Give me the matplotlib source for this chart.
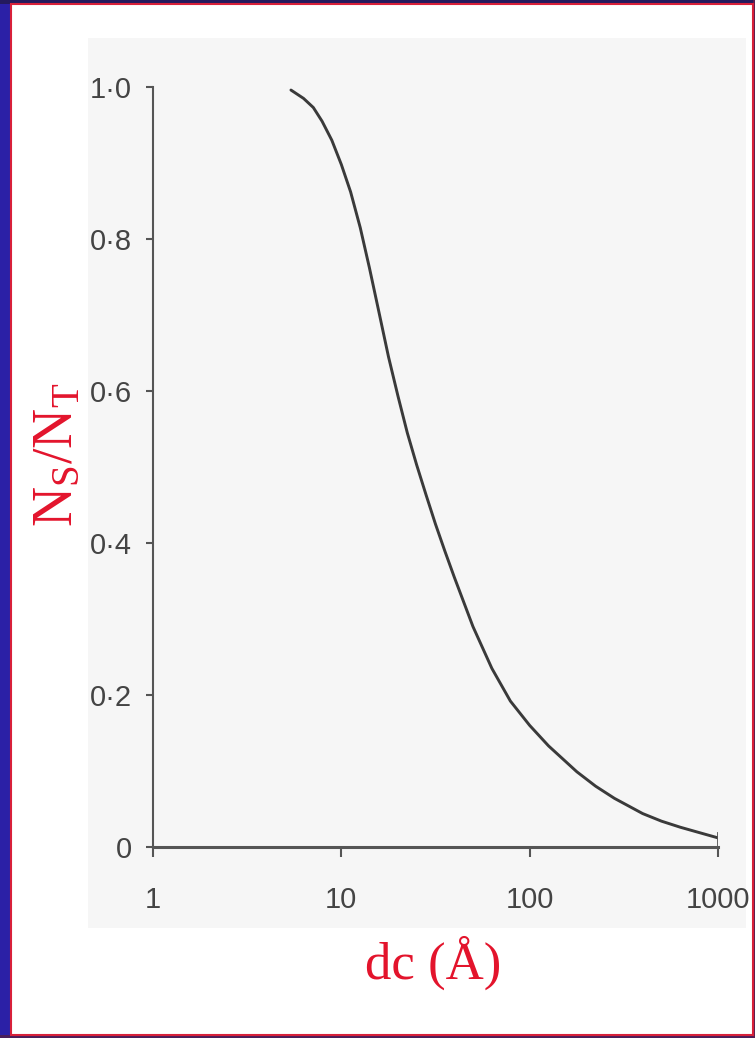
import matplotlib
matplotlib.use("Agg")
import matplotlib.pyplot as plt
from matplotlib.patches import Rectangle

# curve: core diameter dc (Angstrom) vs Ns/Nt
dc = [5.4, 6.3, 7.1, 7.9, 8.9, 10.0, 11.2, 12.6, 14.1, 15.8, 17.8, 20.0,
      22.4, 25.1, 28.2, 31.6, 35.5, 39.8, 50, 63, 79, 100, 126, 178, 224,
      282, 398, 501, 631, 794, 1000]
frac = [0.996, 0.985, 0.973, 0.955, 0.930, 0.898, 0.862, 0.815, 0.762, 0.705,
        0.645, 0.593, 0.545, 0.503, 0.463, 0.425, 0.389, 0.355, 0.290, 0.235,
        0.192, 0.160, 0.133, 0.099, 0.080, 0.064, 0.044, 0.034, 0.026, 0.019,
        0.012]

x_ticks = [1, 10, 100, 1000]
x_labels = ["1", "10", "100", "1000"]
y_ticks = [0, 0.2, 0.4, 0.6, 0.8, 1.0]
y_labels = ["0", "0\u00b72", "0\u00b74", "0\u00b76", "0\u00b78", "1\u00b70"]

RED = "#e3142c"
INK = "#3a3a3a"
W, H = 755, 1038

plt.rcParams["mathtext.fontset"] = "custom"
plt.rcParams["mathtext.rm"] = "Liberation Serif"
plt.rcParams["mathtext.it"] = "Liberation Serif:italic"

fig = plt.figure(figsize=(W / 100, H / 100), dpi=100)
fig.patch.set_facecolor("white")

def box(x0, y0, x1, y1, **kw):
    # rectangle in pixel coords (top-left origin) on the figure
    fig.patches.append(Rectangle((x0 / W, 1 - y1 / H), (x1 - x0) / W, (y1 - y0) / H,
                                 transform=fig.transFigure, zorder=-5, **kw))

# slide frame: blue band left, dark top/bottom, thin red border
box(0, 0, 11, H, color="#2b20a6", lw=0)
box(0, 0, W, 4, color="#241a5e", lw=0)
box(0, 1035, W, H, color="#4a1e5a", lw=0)
box(753, 0, W, H, color="#5a1e50", lw=0)
box(11, 4, 753, 1035, fill=False, ec="#d8203a", lw=1.5)
# pale grey scanned area
box(88, 38, 746, 928, color="#f6f6f6", lw=0)

ax = fig.add_axes([153 / W, 1 - 847 / H, (718 - 153) / W, 760 / H])
ax.set_facecolor("none")
ax.set_xscale("log")
ax.set_xlim(1, 1000)
ax.set_ylim(0, 1)

ax.plot(dc, frac, color=INK, lw=2.1, solid_capstyle="round",
        solid_joinstyle="round")
ax.axvline(1000, ymax=0.018, color="#555555", lw=2)

for s in ["top", "right"]:
    ax.spines[s].set_visible(False)
ax.spines["left"].set_color("#555555")
ax.spines["left"].set_linewidth(1.5)
ax.spines["bottom"].set_color("#555555")
ax.spines["bottom"].set_linewidth(2.2)

ax.set_xticks(x_ticks)
ax.set_xticklabels(x_labels)
ax.xaxis.set_minor_locator(plt.NullLocator())
ax.set_yticks(y_ticks)
ax.set_yticklabels(y_labels)

ax.tick_params(axis="x", length=7, width=1.5, color="#555555", pad=21,
               labelsize=21, labelcolor="#444444")
ax.tick_params(axis="y", length=5, width=1.5, color="#555555", pad=10,
               labelsize=21, labelcolor="#444444")
for lab in ax.get_xticklabels() + ax.get_yticklabels():
    lab.set_family("Liberation Sans")

fig.text(57 / W, 1 - 455 / H, r"$\mathrm{N_S/N_T}$", color=RED, fontsize=40,
         rotation=90, ha="center", va="center")
fig.text(433 / W, 1 - 963 / H, "dc (\u00c5)", color=RED, fontsize=38,
         family="Liberation Serif", ha="center", va="center")

fig.savefig("out.png", dpi=100)
